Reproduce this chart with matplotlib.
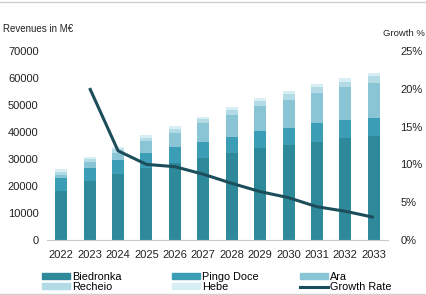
"""Jerónimo Martins revenue forecast by banner, with total growth rate.

Writes out.png (427x295).
"""
import matplotlib
matplotlib.use("Agg")
import matplotlib.pyplot as plt
from matplotlib.lines import Line2D
from matplotlib.patches import Patch
import numpy as np

years = [str(y) for y in range(2022, 2034)]
biedronka = [18300, 22000, 24300, 26800, 28600, 30500, 32200, 34000, 35200, 36400, 37700, 38600]
pingo_doce = [4600, 4700, 5200, 5500, 5700, 5900, 5800, 6200, 6400, 6800, 6800, 6700]
ara = [1200, 2100, 2900, 4200, 5300, 6800, 8300, 9300, 10300, 11300, 12100, 12700]
recheio = [1200, 1250, 1300, 1400, 1600, 1500, 1850, 2100, 2100, 2200, 2100, 2700]
hebe = [900, 850, 850, 900, 850, 1000, 1000, 1000, 1000, 1000, 1200, 1000]
growth = [np.nan, 20.1, 11.8, 10.0, 9.7, 8.7, 7.5, 6.4, 5.6, 4.4, 3.8, 3.0]

series = [
    ("Biedronka", biedronka, "#2e8a9b"),
    ("Pingo Doce", pingo_doce, "#3b9db6"),
    ("Ara", ara, "#8ac5d5"),
    ("Recheio", recheio, "#b3dbe6"),
    ("Hebe", hebe, "#d8eef5"),
]
LINE = "#1c4d5a"
TXT = "#222222"
plt.rcParams["font.family"] = ["Liberation Sans", "DejaVu Sans"]

fig = plt.figure(figsize=(4.27, 2.95), dpi=100)
ax = fig.add_axes([47 / 427, 55 / 295, 341 / 427, 189 / 295])
x = np.arange(len(years))

bottom = np.zeros(len(years))
for name, vals, col in series:
    ax.bar(x, vals, 0.42, bottom=bottom, color=col, label=name, zorder=2)
    bottom += np.array(vals)

ax.set_xlim(-0.5, len(years) - 0.5)
ax.set_ylim(0, 70000)
ax.set_yticks(range(0, 70001, 10000))
ax.set_xticks(x, years)
for s in ("top", "right", "left"):
    ax.spines[s].set_visible(False)
ax.spines["bottom"].set_color("#c8c8c8")
ax.tick_params(axis="both", length=0, labelsize=8, colors=TXT)
ax.tick_params(axis="y", pad=6)
ax.tick_params(axis="x", pad=7)

ax2 = ax.twinx()
ax2.plot(x, growth, color=LINE, lw=2.2, solid_capstyle="butt", zorder=3)
ax2.set_ylim(0, 25)
ax2.set_yticks(range(0, 26, 5), [f"{v}%" for v in range(0, 26, 5)])
for s in ax2.spines.values():
    s.set_visible(False)
ax2.tick_params(axis="y", length=0, labelsize=8, pad=9, colors=TXT)

fig.text(3 / 427, 1 - 29 / 295, "Revenues in M€", fontsize=7, va="center", color=TXT)
fig.text(425 / 427, 1 - 33 / 295, "Growth %", fontsize=6.8, va="center", ha="right", color=TXT)

# legend: three columns placed by hand
cols = {n: c for n, _, c in series}
groups = [
    (42, [Patch(color=cols["Biedronka"]), Patch(color=cols["Recheio"])], ["Biedronka", "Recheio"]),
    (172, [Patch(color=cols["Pingo Doce"]), Patch(color=cols["Hebe"])], ["Pingo Doce", "Hebe"]),
    (300, [Patch(color=cols["Ara"]), Line2D([], [], color=LINE, lw=2.2)], ["Ara", "Growth Rate"]),
]
for px, hs, ls in groups:
    fig.legend(hs, ls, loc="upper left", bbox_to_anchor=(px / 427, 1 - 272 / 295),
               frameon=False, fontsize=7.8, handlelength=2.6, handleheight=0.5,
               handletextpad=0.2, labelspacing=0.0, borderpad=0, borderaxespad=0)

# thin frame lines top and bottom
fig.add_artist(Line2D([0, 1], [1 - 1.5 / 295] * 2, color="#d0d0d0", lw=1))
fig.add_artist(Line2D([0, 1], [1.5 / 295] * 2, color="#d0d0d0", lw=1))

fig.savefig("out.png", dpi=100)
